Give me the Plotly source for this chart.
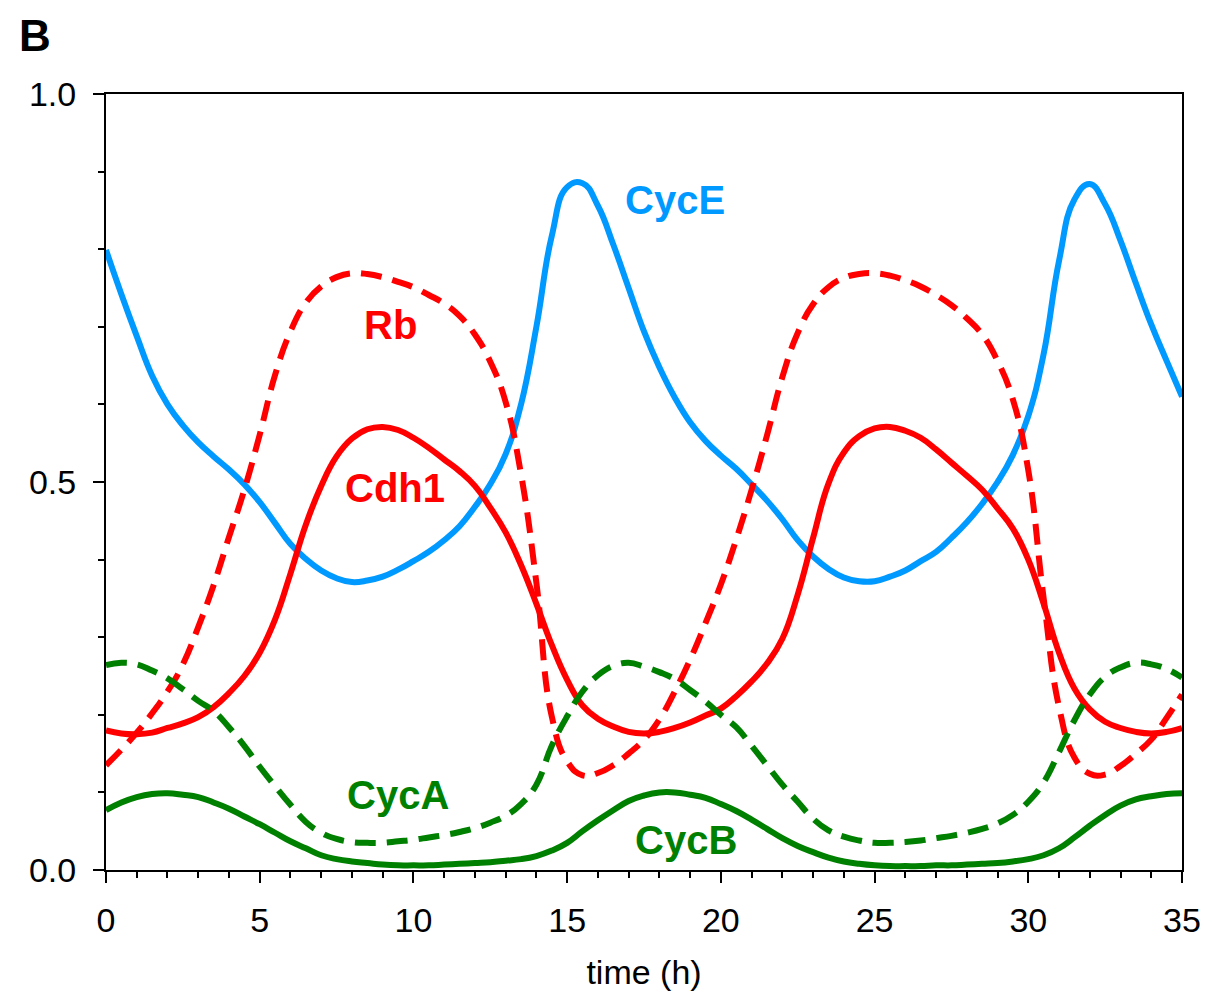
import plotly.graph_objects as go

time_h = [i * 0.5 for i in range(71)]

cyce = [0.799, 0.742, 0.688, 0.637, 0.600, 0.573, 0.551, 0.533, 0.516, 0.497,
        0.474, 0.447, 0.420, 0.401, 0.386, 0.376, 0.371, 0.373, 0.378, 0.387,
        0.398, 0.410, 0.425, 0.443, 0.468, 0.497, 0.536, 0.600, 0.700, 0.817,
        0.880, 0.885, 0.856, 0.806, 0.750, 0.694, 0.648, 0.609, 0.577, 0.553,
        0.534, 0.517, 0.497, 0.476, 0.452, 0.425, 0.404, 0.388, 0.377, 0.372,
        0.372, 0.378, 0.386, 0.398, 0.410, 0.428, 0.448, 0.472, 0.500, 0.535,
        0.585, 0.665, 0.785, 0.864, 0.884, 0.858, 0.811, 0.756, 0.703, 0.656,
        0.610]

rb = [0.135, 0.155, 0.177, 0.202, 0.230, 0.265, 0.313, 0.367, 0.429, 0.490,
      0.561, 0.638, 0.694, 0.731, 0.752, 0.764, 0.769, 0.768, 0.764, 0.758,
      0.751, 0.741, 0.730, 0.714, 0.690, 0.655, 0.603, 0.510, 0.370, 0.198,
      0.140, 0.122, 0.125, 0.135, 0.150, 0.168, 0.194, 0.230, 0.271, 0.318,
      0.368, 0.426, 0.490, 0.560, 0.635, 0.692, 0.729, 0.751, 0.763, 0.768,
      0.769, 0.766, 0.760, 0.752, 0.741, 0.728, 0.711, 0.690, 0.656, 0.606,
      0.515, 0.350, 0.210, 0.145, 0.124, 0.123, 0.134, 0.150, 0.168, 0.196,
      0.226]

cdh1 = [0.180, 0.176, 0.175, 0.177, 0.183, 0.189, 0.197, 0.210, 0.228, 0.250,
        0.280, 0.323, 0.382, 0.445, 0.495, 0.533, 0.556, 0.568, 0.571, 0.567,
        0.557, 0.544, 0.529, 0.514, 0.495, 0.467, 0.435, 0.393, 0.343, 0.290,
        0.245, 0.212, 0.195, 0.185, 0.178, 0.176, 0.178, 0.183, 0.190, 0.199,
        0.208, 0.224, 0.243, 0.266, 0.298, 0.355, 0.428, 0.498, 0.538, 0.559,
        0.569, 0.571, 0.566, 0.557, 0.542, 0.525, 0.508, 0.490, 0.466, 0.440,
        0.400, 0.343, 0.280, 0.234, 0.207, 0.191, 0.183, 0.178, 0.176, 0.178,
        0.183]

cyca = [0.264, 0.267, 0.265, 0.257, 0.247, 0.233, 0.218, 0.205, 0.184, 0.160,
        0.133, 0.108, 0.084, 0.062, 0.048, 0.040, 0.036, 0.035, 0.035, 0.037,
        0.039, 0.042, 0.045, 0.049, 0.054, 0.061, 0.070, 0.085, 0.110, 0.160,
        0.198, 0.230, 0.251, 0.263, 0.267, 0.262, 0.255, 0.246, 0.232, 0.217,
        0.200, 0.184, 0.160, 0.135, 0.110, 0.088, 0.066, 0.051, 0.043, 0.038,
        0.035, 0.035, 0.036, 0.038, 0.041, 0.044, 0.048, 0.053, 0.060, 0.071,
        0.088, 0.113, 0.152, 0.193, 0.226, 0.249, 0.261, 0.267, 0.265, 0.259,
        0.248]

cycb = [0.077, 0.087, 0.094, 0.098, 0.099, 0.097, 0.094, 0.087, 0.079, 0.069,
        0.059, 0.048, 0.037, 0.028, 0.019, 0.014, 0.011, 0.009, 0.007, 0.006,
        0.006, 0.006, 0.007, 0.008, 0.009, 0.010, 0.012, 0.014, 0.018, 0.025,
        0.035, 0.050, 0.064, 0.077, 0.089, 0.096, 0.100, 0.100, 0.097, 0.093,
        0.085, 0.076, 0.065, 0.053, 0.041, 0.031, 0.023, 0.016, 0.011, 0.008,
        0.006, 0.005, 0.005, 0.005, 0.006, 0.006, 0.007, 0.008, 0.009, 0.011,
        0.014, 0.019, 0.028, 0.042, 0.057, 0.071, 0.083, 0.091, 0.095, 0.098,
        0.099]

labels = [
    ("CycE", 18.5, 0.864, "#0099FF"),
    ("Rb", 9.25, 0.702, "#FF0000"),
    ("Cdh1", 9.4, 0.492, "#FF0000"),
    ("CycA", 9.5, 0.097, "#008000"),
    ("CycB", 18.85, 0.039, "#008000"),
]

BLUE = "#0099FF"
RED = "#FF0000"
GREEN = "#008000"
LW = 6
DASH = "21px,11px"

fig = go.Figure()
series = [
    ("CycE", cyce, BLUE, "solid"),
    ("Rb", rb, RED, DASH),
    ("Cdh1", cdh1, RED, "solid"),
    ("CycA", cyca, GREEN, DASH),
    ("CycB", cycb, GREEN, "solid"),
]
for name, vals, col, dash in series:
    fig.add_trace(go.Scatter(
        x=time_h, y=vals, mode="lines", name=name,
        line=dict(color=col, width=LW, dash=dash, shape="spline", smoothing=1.3),
        showlegend=False, hoverinfo="skip"))

for txt, xx, yy, col in labels:
    fig.add_annotation(x=xx, y=yy, text="<b>%s</b>" % txt, showarrow=False,
                       font=dict(family="Liberation Sans, Arial", size=40, color=col),
                       xanchor="center", yanchor="middle")

fig.add_annotation(xref="paper", yref="paper", x=-0.083, y=1.076, text="<b>B</b>",
                   showarrow=False, xanchor="left", yanchor="middle",
                   font=dict(family="Liberation Sans, Arial", size=44, color="black"))

axis_font = dict(family="Liberation Sans, Arial", size=34, color="black")
fig.update_layout(
    width=1213, height=999,
    margin=dict(l=106, r=26, t=94, b=129),
    paper_bgcolor="white", plot_bgcolor="white",
    font=axis_font,
    xaxis=dict(range=[0, 35], dtick=5, tick0=0, ticks="outside", ticklen=11,
               tickwidth=2, tickcolor="black", showline=True, linecolor="black",
               linewidth=2, mirror=True, showgrid=False, zeroline=False,
               tickfont=axis_font, ticklabelstandoff=8,
               minor=dict(dtick=1, ticks="outside", ticklen=6, tickwidth=1.5,
                          tickcolor="black", showgrid=False),
               title=dict(text="time (h)", font=axis_font, standoff=22)),
    yaxis=dict(range=[0, 1], dtick=0.5, tick0=0, tickformat=".1f", ticks="outside",
               ticklen=11, tickwidth=2, tickcolor="black", showline=True,
               linecolor="black", linewidth=2, mirror=True, showgrid=False,
               zeroline=False, tickfont=axis_font, ticklabelstandoff=10,
               minor=dict(dtick=0.1, ticks="outside", ticklen=6, tickwidth=1.5,
                          tickcolor="black", showgrid=False)),
)

fig.write_html("out.html")
